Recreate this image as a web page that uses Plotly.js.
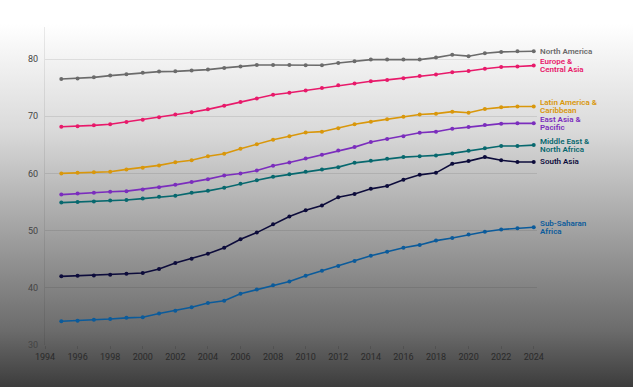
<!DOCTYPE html>
<html>
<head>
<meta charset="utf-8">
<script src="https://cdn.plot.ly/plotly-3.0.1.min.js"></script>
<style>
html, body { margin:0; padding:0; width:633px; height:387px; overflow:hidden;
  background: linear-gradient(to bottom, #ffffff 0px, #ffffff 24px, #dadada 130px, #929292 260px, #6c6c6c 330px, #3c3c3c 387px); }
#chart { width:633px; height:387px; }
</style>
</head>
<body>
<div id="chart"></div>
<script>
const years = [1995,1996,1997,1998,1999,2000,2001,2002,2003,2004,2005,2006,2007,2008,2009,2010,2011,2012,2013,2014,2015,2016,2017,2018,2019,2020,2021,2022,2023,2024];

const northAmerica = [76.5,76.6,76.8,77.1,77.35,77.6,77.8,77.85,78.0,78.15,78.45,78.7,78.95,78.95,78.95,78.9,78.9,79.3,79.6,79.9,79.9,79.9,79.9,80.25,80.75,80.5,81.0,81.25,81.35,81.35];
const europeCentralAsia = [68.15,68.25,68.4,68.6,69.0,69.4,69.8,70.3,70.7,71.2,71.85,72.5,73.1,73.75,74.1,74.5,74.95,75.4,75.7,76.1,76.35,76.65,77.05,77.3,77.7,77.9,78.3,78.6,78.7,78.85];
const latinAmerica = [60.0,60.1,60.2,60.3,60.7,61.0,61.4,61.95,62.3,63.0,63.45,64.3,65.1,65.9,66.5,67.15,67.3,67.9,68.6,69.05,69.45,69.9,70.3,70.45,70.8,70.6,71.25,71.55,71.7,71.7];
const eastAsiaPacific = [56.3,56.5,56.6,56.8,56.9,57.2,57.6,58.0,58.5,59.0,59.65,60.0,60.5,61.35,61.9,62.6,63.25,64.0,64.6,65.5,66.0,66.5,67.1,67.3,67.8,68.1,68.45,68.7,68.75,68.75];
const middleEastNorthAfrica = [54.9,55.0,55.1,55.25,55.35,55.6,55.9,56.1,56.6,56.95,57.5,58.2,58.8,59.4,59.85,60.3,60.7,61.1,61.85,62.2,62.55,62.85,63.0,63.15,63.5,63.95,64.4,64.8,64.8,64.95];
const southAsia = [42.0,42.1,42.15,42.3,42.45,42.6,43.3,44.35,45.1,45.95,47.0,48.5,49.65,51.1,52.45,53.55,54.4,55.85,56.4,57.3,57.8,58.9,59.75,60.1,61.7,62.15,62.85,62.3,62.0,62.0];
const subSaharanAfrica = [34.15,34.25,34.4,34.55,34.75,34.85,35.5,36.0,36.6,37.35,37.75,38.95,39.7,40.45,41.1,42.1,43.0,43.8,44.7,45.6,46.3,47.0,47.5,48.25,48.7,49.3,49.8,50.2,50.4,50.6];

const seriesNames = ["North America","Europe &\nCentral Asia","Latin America &\nCaribbean","East Asia &\nPacific","Middle East &\nNorth Africa","South Asia","Sub-Saharan\nAfrica"];
const seriesValues = [northAmerica, europeCentralAsia, latinAmerica, eastAsiaPacific, middleEastNorthAfrica, southAsia, subSaharanAfrica];
const seriesColors = ["#6b6b6b","#e8196a","#d9970b","#7b2dbd","#07686e","#0d0c3b","#0b5b9b"];

const yTicks = [30,40,50,60,70,80];
const xTicks = [1994,1996,1998,2000,2002,2004,2006,2008,2010,2012,2014,2016,2018,2020,2022,2024];

const traces = seriesValues.map((vals, i) => ({
  x: years, y: vals, type: 'scatter', mode: 'lines+markers',
  name: seriesNames[i].replace('\n',' '),
  line: {color: seriesColors[i], width: 1.6},
  marker: {color: seriesColors[i], size: 4},
  hoverinfo: 'skip'
}));

const annotations = [];
seriesValues.forEach((vals, i) => {
  const lines = seriesNames[i].split('\n');
  const n = lines.length;
  const lh = 8.2;
  lines.forEach((txt, k) => {
    annotations.push({
      x: years[years.length-1], y: vals[vals.length-1], xref: 'x', yref: 'y',
      text: txt, showarrow: false, xanchor: 'left', yanchor: 'middle',
      xshift: 5, yshift: ((n-1)/2 - k) * lh, borderpad: 0,
      font: {family: 'Roboto, sans-serif', size: 8, color: seriesColors[i], weight: 600}
    });
  });
});

const layout = {
  width: 633, height: 387,
  margin: {l: 45, r: 96, t: 27, b: 42},
  paper_bgcolor: 'rgba(0,0,0,0)',
  plot_bgcolor: 'rgba(0,0,0,0)',
  showlegend: false,
  xaxis: {
    range: [1994, 2024.2], tickvals: xTicks, ticktext: xTicks.map(String),
    showgrid: false, zeroline: false, showline: false,
    ticks: 'outside', ticklen: 3, tickcolor: 'rgba(0,0,0,0.12)',
    tickfont: {family: 'Roboto, sans-serif', size: 9, color: '#2a2a2a'}
  },
  yaxis: {
    range: [30, 85.6], tickvals: yTicks, ticktext: yTicks.map(String),
    showgrid: true, gridcolor: 'rgba(0,0,0,0.09)', gridwidth: 1,
    zeroline: false, showline: true, linecolor: 'rgba(0,0,0,0.08)', linewidth: 1,
    ticks: '', ticklabelstandoff: 4,
    tickfont: {family: 'Roboto, sans-serif', size: 9, color: '#444'}
  },
  annotations: annotations
};

Plotly.newPlot('chart', traces, layout, {staticPlot: true, displayModeBar: false});
</script>
</body>
</html>
